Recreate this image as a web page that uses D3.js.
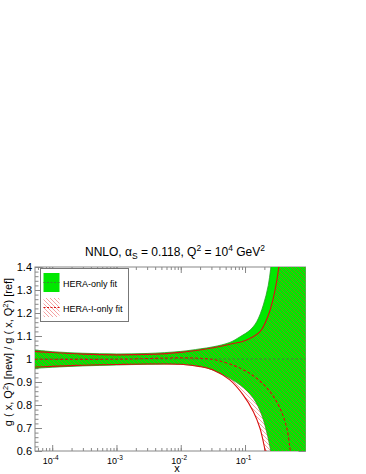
<!DOCTYPE html>
<html>
<head>
<meta charset="utf-8">
<script src="https://cdn.jsdelivr.net/npm/d3@7"></script>
<style>
body { margin: 0; background: #fff; }
svg { display: block; }
text { font-family: "Liberation Sans", Arial, sans-serif; fill: #000; }
</style>
</head>
<body>
<svg id="chart" width="366" height="474"></svg>
<script>
// HERA-only fit (green band): [x, ratio]
const heraUpper = [[4.5e-5, 1.041], [1e-4, 1.032], [3e-4, 1.025], [1e-3, 1.022], [3e-3, 1.024], [0.01, 1.033], [0.02, 1.044], [0.032, 1.053], [0.058, 1.072], [0.084, 1.097], [0.12, 1.126], [0.152, 1.162], [0.193, 1.235], [0.23, 1.32], [0.25, 1.39], [0.27, 1.47], [0.3, 1.6], [1.2, 1.6]];
const heraLower = [[4.5e-5, 0.958], [1e-4, 0.964], [3e-4, 0.97], [1e-3, 0.974], [3e-3, 0.977], [0.01, 0.977], [0.025, 0.962], [0.046, 0.93], [0.084, 0.887], [0.135, 0.829], [0.182, 0.757], [0.217, 0.684], [0.25, 0.604], [0.27, 0.55], [0.3, 0.4], [1.2, 0.4]];
const heraCentral = [[4.5e-5, 1], [1.2, 1]];

// HERA-I-only fit (red hatched band)
const hera1Upper = [[4.5e-5, 1.035], [1e-4, 1.028], [3e-4, 1.021], [1e-3, 1.018], [3e-3, 1.02], [0.01, 1.029], [0.032, 1.049], [0.058, 1.064], [0.106, 1.083], [0.171, 1.119], [0.23, 1.19], [0.275, 1.264], [0.31, 1.336], [0.34, 1.41], [0.36, 1.46], [0.4, 1.6], [1.2, 1.6]];
const hera1Lower = [[4.5e-5, 0.964], [1e-4, 0.968], [3e-4, 0.973], [1e-3, 0.976], [3e-3, 0.978], [0.01, 0.977], [0.02, 0.967], [0.032, 0.952], [0.058, 0.909], [0.094, 0.843], [0.135, 0.771], [0.171, 0.699], [0.205, 0.604], [0.22, 0.56], [0.25, 0.4], [1.2, 0.4]];
const hera1Central = [[4.5e-5, 0.999], [1e-3, 0.999], [0.01, 1.005], [0.02, 1.003], [0.035, 0.996], [0.084, 0.96], [0.152, 0.916], [0.245, 0.858], [0.35, 0.786], [0.446, 0.7], [0.5, 0.612], [0.52, 0.57], [0.55, 0.5]];

// axis ticks
const xMajor = [1e-4, 1e-3, 1e-2, 1e-1];
const xExponents = ['-4', '-3', '-2', '-1'];
const yMajor = [0.6, 0.7, 0.8, 0.9, 1.0, 1.1, 1.2, 1.3, 1.4];
const yLabels = ['0.6', '0.7', '0.8', '0.9', '1', '1.1', '1.2', '1.3', '1.4'];

const svg = d3.select('#chart');
const plotLeft = 35, plotRight = 305.5, plotTop = 267, plotBottom = 451;

const x = d3.scaleLog().domain([5.4e-5, 0.873]).range([plotLeft, plotRight]);
const y = d3.scaleLinear().domain([0.6, 1.4]).range([plotBottom, plotTop]);

const defs = svg.append('defs');
defs.append('clipPath').attr('id', 'plot-clip')
	.append('rect').attr('x', plotLeft).attr('y', plotTop).attr('width', plotRight - plotLeft).attr('height', plotBottom - plotTop);
defs.append('pattern').attr('id', 'hatch')
	.attr('patternUnits', 'userSpaceOnUse').attr('width', 4).attr('height', 4)
	.append('path').attr('d', 'M-1,-1 L5,5 M3,-1 L5,1 M-1,3 L1,5')
	.attr('stroke', '#e83030').attr('stroke-width', 0.45);

// frame + ticks (drawn under the bands, like the original)
const axisColor = '#888';
svg.append('rect').attr('x', plotLeft).attr('y', plotTop).attr('width', plotRight - plotLeft).attr('height', plotBottom - plotTop)
	.attr('fill', 'none').attr('stroke', axisColor).attr('stroke-width', 1);

const styleAxis = (g) => {
	g.select('.domain').remove();
	g.selectAll('line').attr('stroke', axisColor);
};

svg.append('g').attr('transform', `translate(0,${plotBottom})`)
	.call(d3.axisBottom(x).tickValues(x.ticks()).tickSize(-3).tickFormat(''))
	.call(styleAxis);
svg.append('g').attr('transform', `translate(0,${plotTop})`)
	.call(d3.axisTop(x).tickValues(x.ticks()).tickSize(-3).tickFormat(''))
	.call(styleAxis);
svg.append('g').attr('transform', `translate(0,${plotTop})`)
	.call(d3.axisTop(x).tickValues(xMajor).tickSize(-6).tickFormat(''))
	.call(styleAxis);

const xAxis = svg.append('g').attr('transform', `translate(0,${plotBottom})`)
	.call(d3.axisBottom(x).tickValues(xMajor).tickSize(-6).tickFormat(''))
	.call(styleAxis);
xAxis.selectAll('.tick text').remove();
xAxis.selectAll('.tick').append('text')
	.attr('y', 13).attr('x', -2).attr('text-anchor', 'middle').attr('font-size', 9)
	.each(function (d, i) {
		const t = d3.select(this);
		t.append('tspan').text('10');
		t.append('tspan').attr('dy', -4).attr('font-size', 6.5).text(xExponents[i]);
	});

svg.append('g').attr('transform', `translate(${plotLeft},0)`)
	.call(d3.axisLeft(y).ticks(40).tickSize(-3.5).tickFormat(''))
	.call(styleAxis);
svg.append('g').attr('transform', `translate(${plotRight},0)`)
	.call(d3.axisRight(y).ticks(40).tickSize(-3.5).tickFormat(''))
	.call(styleAxis);
svg.append('g').attr('transform', `translate(${plotRight},0)`)
	.call(d3.axisRight(y).tickValues(yMajor).tickSize(-7).tickFormat(''))
	.call(styleAxis);
svg.append('g').attr('transform', `translate(${plotLeft},0)`)
	.call(d3.axisLeft(y).tickValues(yMajor).tickSize(-7).tickPadding(3).tickFormat((d, i) => yLabels[i]))
	.call(styleAxis)
	.call((g) => g.selectAll('text').attr('font-size', 11).attr('fill', '#000').style('font-family', '"Liberation Sans", Arial, sans-serif'));

// bands
const line = d3.line().x((d) => x(d[0])).y((d) => y(d[1])).curve(d3.curveCatmullRom);
const bandPath = (upper, lower) => line(upper) + line(lower.slice().reverse()).replace('M', 'L') + 'Z';

const plot = svg.append('g').attr('clip-path', 'url(#plot-clip)');

plot.append('path').attr('d', bandPath(heraUpper, heraLower)).attr('fill', '#00e800');
[heraUpper, heraLower].forEach((edge) => {
	plot.append('path').attr('d', line(edge)).attr('fill', 'none').attr('stroke', '#1fa01f').attr('stroke-width', 0.8);
});

plot.append('path').attr('d', bandPath(hera1Upper, hera1Lower)).attr('fill', 'url(#hatch)');
[hera1Upper, hera1Lower].forEach((edge) => {
	plot.append('path').attr('d', line(edge)).attr('fill', 'none').attr('stroke', '#d81010').attr('stroke-width', 1.1);
});

plot.append('path').attr('d', line(heraCentral)).attr('fill', 'none')
	.attr('stroke', '#3c8a30').attr('stroke-width', 1).attr('stroke-dasharray', '2.5,2');
plot.append('path').attr('d', line(hera1Central)).attr('fill', 'none')
	.attr('stroke', '#d81010').attr('stroke-width', 1.1).attr('stroke-dasharray', '3,2');

// legend
const legend = svg.append('g');
legend.append('rect').attr('x', 40.5).attr('y', 268.5).attr('width', 88).attr('height', 53)
	.attr('fill', '#fff').attr('stroke', '#777').attr('stroke-width', 1);
legend.append('rect').attr('x', 43.5).attr('y', 273).attr('width', 16).attr('height', 19).attr('fill', '#00e800');
legend.append('line').attr('x1', 43.5).attr('x2', 59.5).attr('y1', 282.5).attr('y2', 282.5)
	.attr('stroke', '#3c8a30').attr('stroke-width', 1).attr('stroke-dasharray', '2,1.5');
legend.append('text').attr('x', 63).attr('y', 286.5).attr('font-size', 9).text('HERA-only fit');
legend.append('rect').attr('x', 43.5).attr('y', 298).attr('width', 16).attr('height', 19).attr('fill', 'url(#hatch)');
legend.append('line').attr('x1', 43.5).attr('x2', 59.5).attr('y1', 307.5).attr('y2', 307.5)
	.attr('stroke', '#d81010').attr('stroke-width', 1.1).attr('stroke-dasharray', '2,1.5');
legend.append('text').attr('x', 63).attr('y', 312).attr('font-size', 9).text('HERA-I-only fit');

// title
const title = svg.append('text').attr('x', 85).attr('y', 256).attr('font-size', 12);
title.append('tspan').text('NNLO, α');
title.append('tspan').attr('dy', 3).attr('font-size', 8.5).text('S');
title.append('tspan').attr('dy', -3).text(' = 0.118, Q');
title.append('tspan').attr('dy', -5).attr('font-size', 8.5).text('2');
title.append('tspan').attr('dy', 5).text(' = 10');
title.append('tspan').attr('dy', -5).attr('font-size', 8.5).text('4');
title.append('tspan').attr('dy', 5).text(' GeV');
title.append('tspan').attr('dy', -5).attr('font-size', 8.5).text('2');

// axis titles
svg.append('text').attr('x', 177).attr('y', 472).attr('font-size', 11).attr('text-anchor', 'middle').text('x');

const yTitle = svg.append('text').attr('transform', 'translate(12,352) rotate(-90)')
	.attr('text-anchor', 'middle').attr('font-size', 11);
yTitle.append('tspan').text('g ( x, Q');
yTitle.append('tspan').attr('dy', -4).attr('font-size', 7.5).text('2');
yTitle.append('tspan').attr('dy', 4).text(') [new] / g ( x, Q');
yTitle.append('tspan').attr('dy', -4).attr('font-size', 7.5).text('2');
yTitle.append('tspan').attr('dy', 4).text(') [ref]');
</script>
</body>
</html>
